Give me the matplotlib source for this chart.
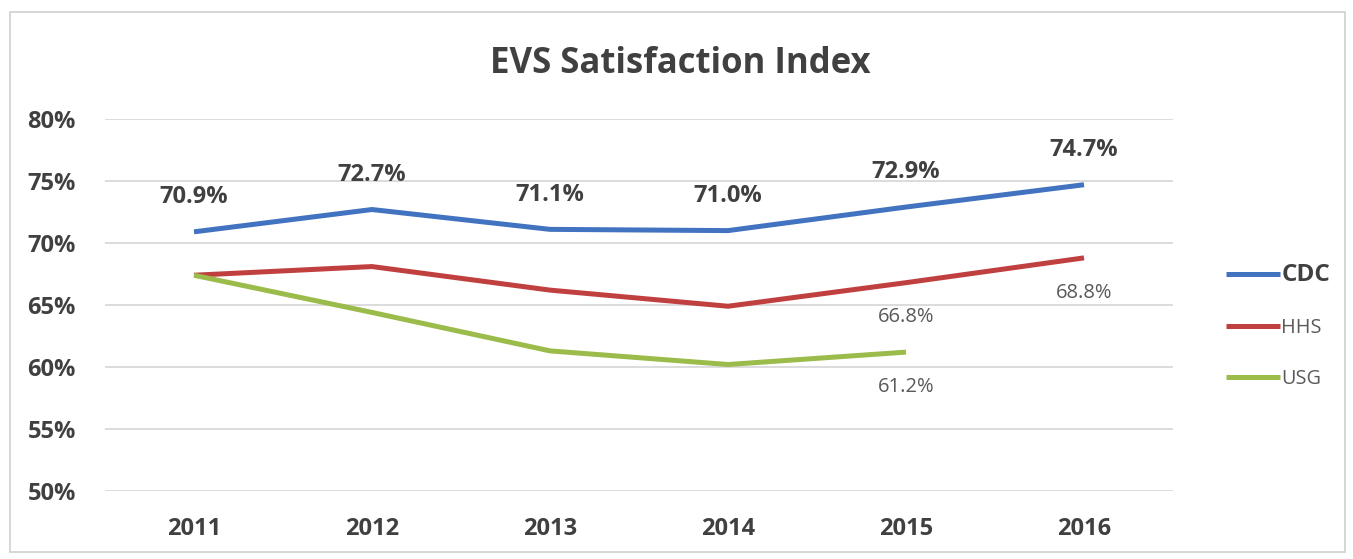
import matplotlib
matplotlib.use("Agg")
import matplotlib.pyplot as plt
from matplotlib.patches import Rectangle
from matplotlib.ticker import FuncFormatter

years = ["2011", "2012", "2013", "2014", "2015", "2016"]
cdc = [70.9, 72.7, 71.1, 71.0, 72.9, 74.7]
hhs = [67.4, 68.1, 66.2, 64.9, 66.8, 68.8]
usg = [67.4, 64.4, 61.3, 60.2, 61.2]
y_ticks = [50, 55, 60, 65, 70, 75, 80]

plt.rcParams['font.family'] = ['Open Sans', 'DejaVu Sans']
TXT = '#404040'

fig = plt.figure(figsize=(13.53, 5.59), dpi=100)
ax = fig.add_axes([105/1353, 68/559, 1068/1353, 372/559])

x = list(range(len(years)))
l1, = ax.plot(x, cdc, color='#4273C1', lw=3.6, solid_capstyle='butt', label='CDC', zorder=3)
l2, = ax.plot(x, hhs, color='#C0403F', lw=3.6, solid_capstyle='butt', label='HHS', zorder=3)
l3, = ax.plot(x[:len(usg)], usg, color='#9BBB4A', lw=3.6, solid_capstyle='butt', label='USG', zorder=3)

for i, v in enumerate(cdc):
    ax.annotate(f"{v:.1f}%", (i, v), xytext=(0, 25), textcoords='offset points',
                ha='center', va='center', fontsize=17, fontweight='bold', color=TXT)
for i in [4, 5]:
    ax.annotate(f"{hhs[i]:.1f}%", (i, hhs[i]), xytext=(0, -25), textcoords='offset points',
                ha='center', va='center', fontsize=14.5, color='#595959')
ax.annotate(f"{usg[4]:.1f}%", (4, usg[4]), xytext=(0, -25), textcoords='offset points',
            ha='center', va='center', fontsize=14.5, color='#595959')

ax.set_xlim(-0.5, len(years) - 0.5)
ax.set_ylim(y_ticks[0], y_ticks[-1])
ax.set_yticks(y_ticks)
ax.yaxis.set_major_formatter(FuncFormatter(lambda v, p: f"{v:.0f}%"))
ax.set_xticks(x)
ax.set_xticklabels(years)
for lab in ax.get_xticklabels() + ax.get_yticklabels():
    lab.set_fontweight('bold')
    lab.set_color(TXT)
    lab.set_fontsize(17)
ax.tick_params(axis='both', length=0)
ax.tick_params(axis='y', pad=21)
ax.tick_params(axis='x', pad=19)
ax.grid(axis='y', color='#D9D9D9', lw=1.3)
ax.set_axisbelow(True)
for s in ax.spines.values():
    s.set_visible(False)

fig.text(680/1353, 1 - 64/559, "EVS Satisfaction Index", ha='center', va='center',
         fontsize=25, fontweight='bold', color=TXT)

leg = fig.legend(handles=[l1, l2, l3], loc='center left', bbox_to_anchor=(1208/1353, 1 - 326/559),
                 frameon=False, handlelength=2.7, handletextpad=0.1, labelspacing=1.55, fontsize=14.3)
for t in leg.get_texts():
    t.set_color('#595959')
leg.get_texts()[0].set_fontweight('bold')
leg.get_texts()[0].set_fontsize(17.5)
leg.get_texts()[0].set_color(TXT)

fig.patches.append(Rectangle((10/1353, 7/559), 1335/1353, 540/559, transform=fig.transFigure,
                             fill=False, edgecolor='#D0D0D0', lw=1.2))

fig.savefig("out.png", dpi=100)
